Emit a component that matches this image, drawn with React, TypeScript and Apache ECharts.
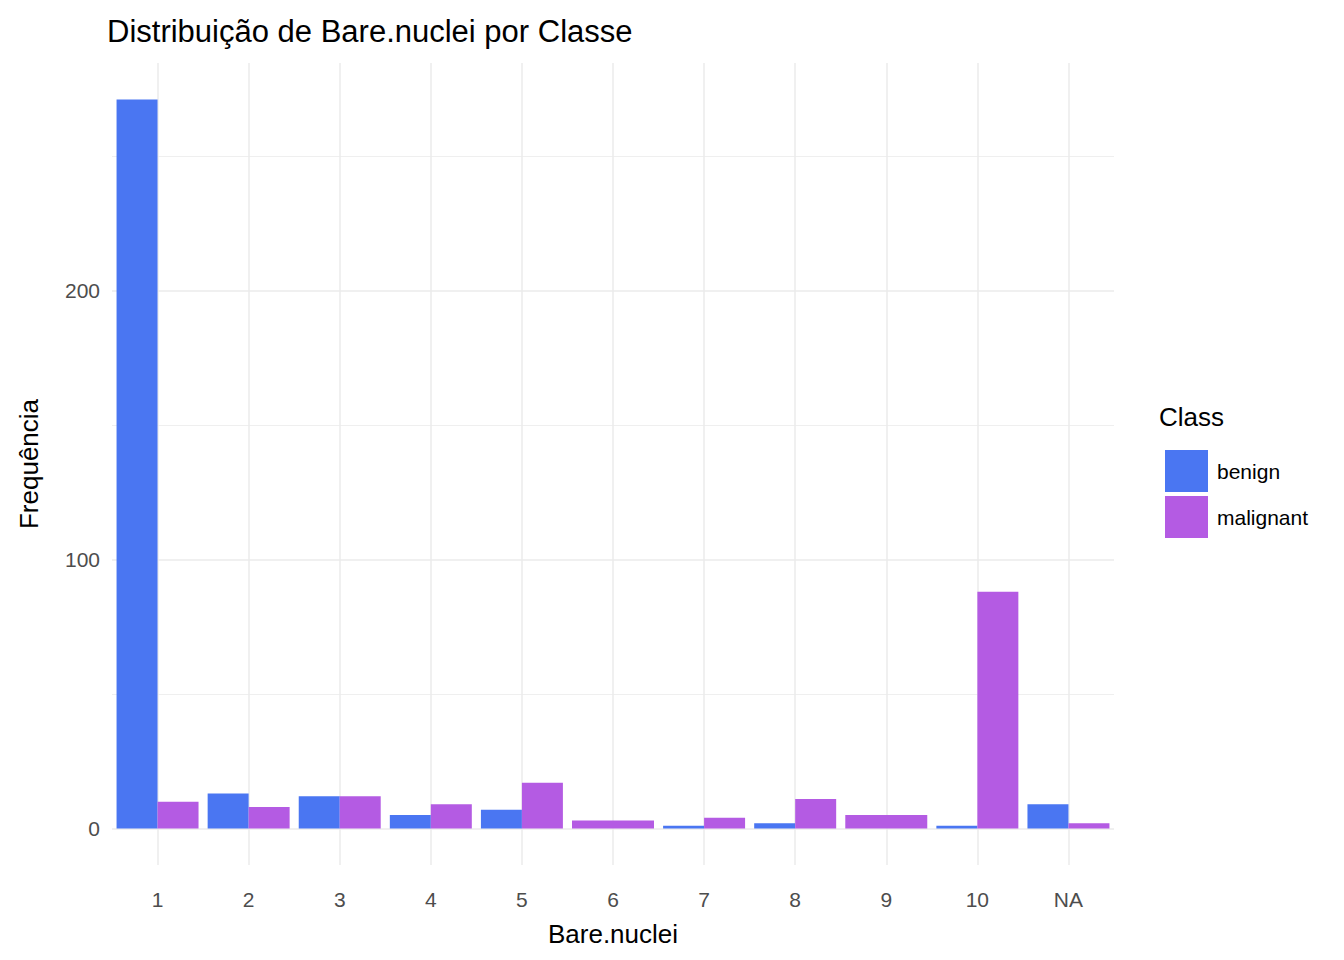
import { useEffect, useRef } from "react";
import * as echarts from "echarts";

const categories = ["1", "2", "3", "4", "5", "6", "7", "8", "9", "10", "NA"];
// null where a class has no cases; 6 and 9 are malignant-only (full-width bars)
const benign = [271, 13, 12, 5, 7, null, 1, 2, null, 1, 9];
const malignant = [10, 8, 12, 9, 17, null, 4, 11, null, 88, 2];
const solo = [null, null, null, null, null, 3, null, null, 5, null, null];
const yTicks = [0, 100, 200];
const yGrid = [0, 50, 100, 150, 200, 250];

const BLUE = "#4A76F2";
const PURPLE = "#B45BE3";
const GRID = "#EBEBEB";
const FONT = "Liberation Sans, Arial, sans-serif";

export default function App() {
  const ref = useRef<HTMLDivElement>(null);

  useEffect(() => {
    if (!ref.current) return;
    const chart = echarts.init(ref.current, null, { renderer: "svg" });
    chart.setOption({
      animation: false,
      textStyle: { fontFamily: FONT },
      title: {
        text: "Distribuição de Bare.nuclei por Classe",
        left: 94,
        top: 3,
        textStyle: { fontSize: 31, fontWeight: "normal", color: "#000", fontFamily: FONT },
      },
      legend: {
        data: ["benign", "malignant"],
        orient: "vertical",
        left: 1152,
        top: 437,
        itemWidth: 43,
        itemHeight: 42,
        itemGap: 4,
        icon: "rect",
        textStyle: { fontSize: 21, color: "#000", fontFamily: FONT, padding: [0, 0, 0, 4] },
      },
      graphic: [
        { type: "text", left: 1151, top: 396, style: { text: "Class", fontSize: 26, fill: "#000", fontFamily: FONT } },
      ],
      grid: { left: 93, right: 222, top: 55, bottom: 78 },
      xAxis: [
        {
          type: "category",
          data: categories,
          name: "Bare.nuclei",
          nameLocation: "middle",
          nameGap: 56,
          nameTextStyle: { fontSize: 26, color: "#000", fontFamily: FONT },
          axisLine: { show: false },
          axisTick: { show: false },
          axisLabel: { fontSize: 21, color: "#4D4D4D", margin: 24 },
          splitLine: { show: false },
        },
        { type: "category", data: categories, show: false },
      ],
      yAxis: {
        type: "value",
        min: -13.55,
        max: 284.6,
        name: "Frequência",
        nameLocation: "middle",
        nameGap: 70,
        nameTextStyle: { fontSize: 26, color: "#000", fontFamily: FONT },
        axisLine: { show: false },
        axisTick: { show: false },
        splitLine: { show: false },
        axisLabel: { fontSize: 21, color: "#4D4D4D", customValues: yTicks, margin: 12 },
      },
      series: [
        { name: "benign", type: "bar", data: benign, itemStyle: { color: BLUE }, barGap: "0%", barCategoryGap: "10%" },
        { name: "malignant", type: "bar", data: malignant, itemStyle: { color: PURPLE }, barGap: "0%", barCategoryGap: "10%" },
        {
          name: "malignant-solo",
          type: "bar",
          xAxisIndex: 1,
          data: solo,
          itemStyle: { color: PURPLE },
          barCategoryGap: "10%",
          markLine: {
            silent: true,
            symbol: "none",
            label: { show: false },
            z: 0,
            data: [
              ...yGrid.map((v) => ({ yAxis: v, lineStyle: { color: GRID, width: v % 100 === 0 ? 1.5 : 0.8, type: "solid" } })),
              ...categories.map((c) => ({ xAxis: c, lineStyle: { color: GRID, width: 1.5, type: "solid" } })),
            ],
          },
        },
      ],
    });
    return () => chart.dispose();
  }, []);

  return <div ref={ref} style={{ width: 1328, height: 944, background: "#fff" }} />;
}
